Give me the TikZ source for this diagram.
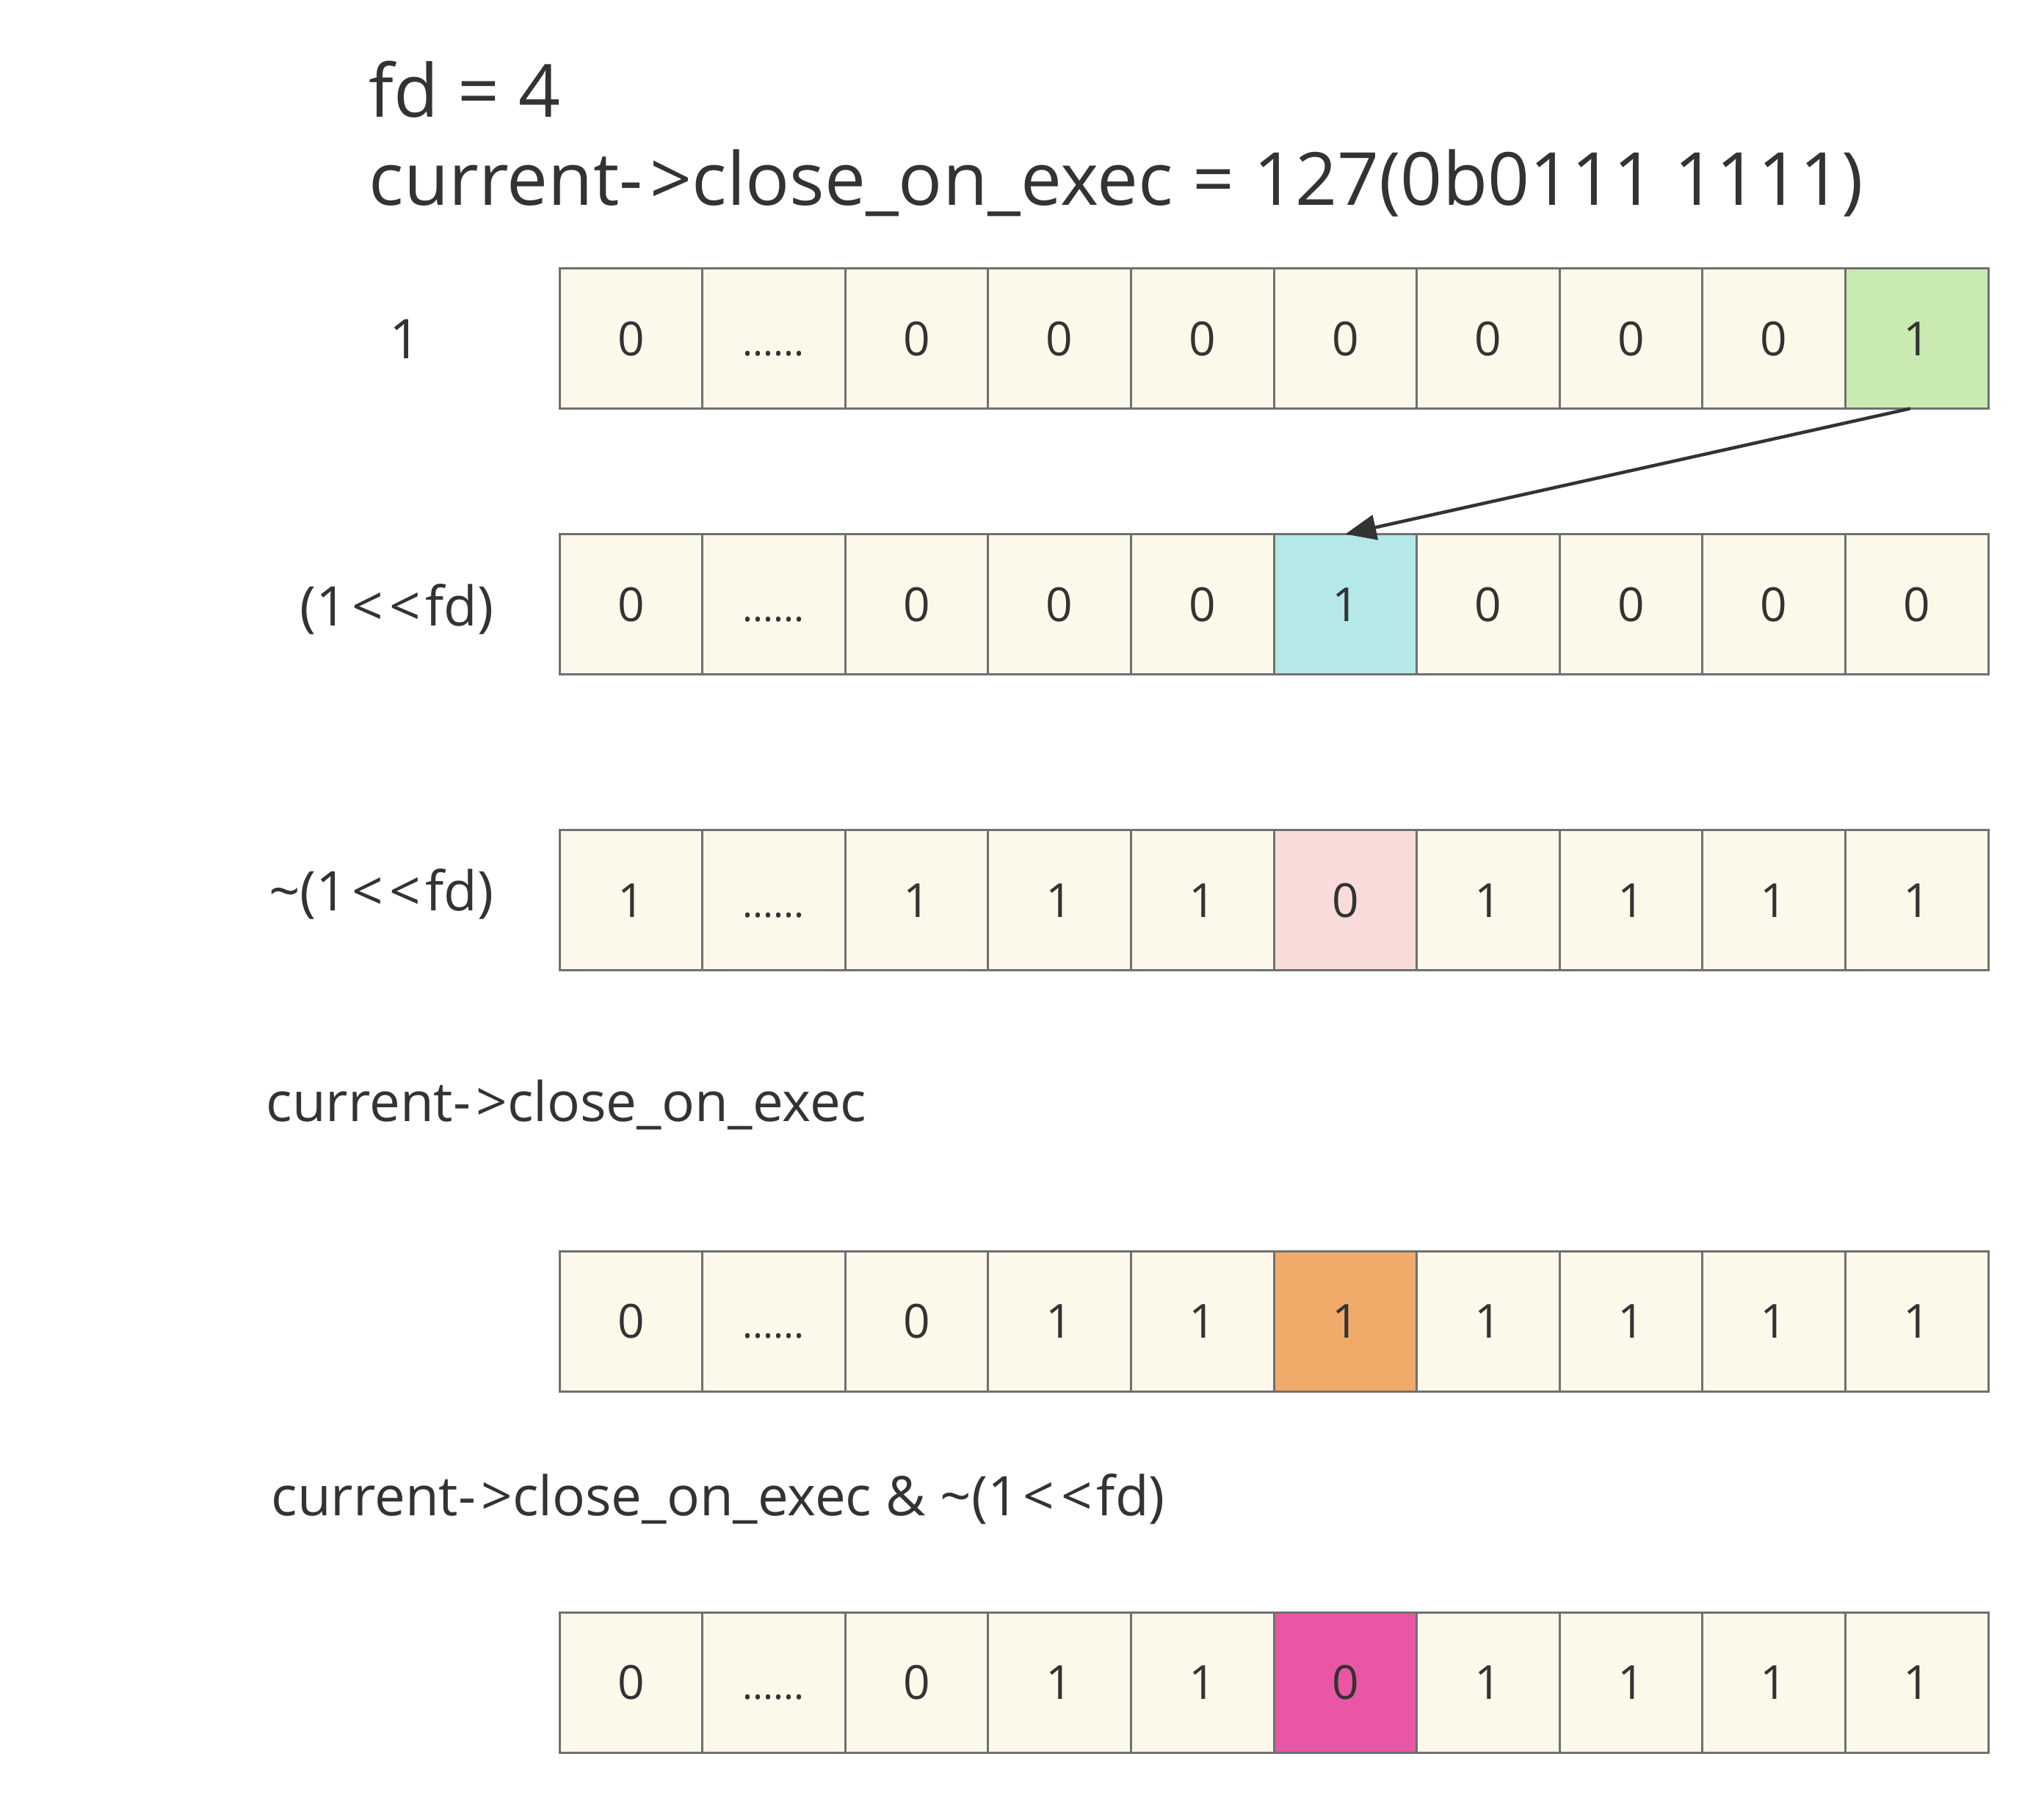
\documentclass[tikz,border=0pt]{standalone}
\usepackage{fontspec}
\setmainfont{Open Sans}
\usetikzlibrary{arrows.meta}

\definecolor{ink}{HTML}{333333}
\definecolor{edge}{HTML}{707070}
\definecolor{cream}{HTML}{FCF8EA}
\definecolor{lgreen}{HTML}{C9EBB2}
\definecolor{lcyan}{HTML}{B5E8E8}
\definecolor{lpink}{HTML}{F9DCDA}
\definecolor{lorange}{HTML}{F0AB6A}
\definecolor{lmagenta}{HTML}{E856A5}

\tikzset{
  bitcell/.style={draw=edge, line width=0.03cm, fill=cream, text=ink,
    minimum width=1.946cm, minimum height=1.91cm, inner sep=0pt, outer sep=0pt,
    font=\fontsize{18.2pt}{22pt}\selectfont, text height=0.46cm, text depth=0pt},
  title/.style={anchor=base west, inner sep=0pt, text=ink,
    font=\fontsize{28.4pt}{34pt}\selectfont},
  rowlabel/.style={inner sep=0pt, text=ink,
    font=\fontsize{21.2pt}{26pt}\selectfont},
  flow/.style={draw=ink, line width=0.045cm,
    -{Triangle[length=0.42cm, width=0.34cm]}}
}

% the elided middle bits
\newcommand{\elided}{{\fontsize{15pt}{18pt}\selectfont......}}
% operators, spaced as the font sets them
\newcommand{\arrowop}{-\kern0.1em>}
\newcommand{\shiftop}{\kern0.08em<\kern0.12em<\kern0.08em}
\newcommand{\tildeop}{\char`\~}

% one row of ten bits: #1 row name, #2 y of the row centre, #3 list of entries
\newcommand{\bitrow}[3]{%
  \foreach \v/\f [count=\i from 0] in {#3} {
    \node[bitcell, fill=\f] (#1c\i) at ({8.593+1.946*\i}, #2) {\v};
  }%
}

\begin{document}
\begin{tikzpicture}
\useasboundingbox (0,0) rectangle (27.84,-24.63);

% heading
\node[title] (hfd) at (5.02,-1.60) {fd = 4};
\node[title] (hcoe) at (5.02,-2.80) {current\arrowop close\_on\_exec = 127(0b0111 1111)};

% row labels
\node[rowlabel, anchor=base] (lone) at (5.52,-4.88) {1};
\node[rowlabel, anchor=base east] (lshift) at (6.73,-8.52) {(1\shiftop fd)};
\node[rowlabel, anchor=base east] (lnot) at (6.73,-12.40) {\tildeop(1\shiftop fd)};
\node[rowlabel, anchor=base west] (lcoe) at (3.62,-15.27) {current\arrowop close\_on\_exec};
\node[rowlabel, anchor=base west] (land) at (3.69,-20.64) {current\arrowop close\_on\_exec \& \tildeop(1\shiftop fd)};

% bit rows
\bitrow{a}{-4.61}{0/cream,\elided/cream,0/cream,0/cream,0/cream,0/cream,0/cream,0/cream,0/cream,1/lgreen}
\bitrow{b}{-8.23}{0/cream,\elided/cream,0/cream,0/cream,0/cream,1/lcyan,0/cream,0/cream,0/cream,0/cream}
\bitrow{c}{-12.26}{1/cream,\elided/cream,1/cream,1/cream,1/cream,0/lpink,1/cream,1/cream,1/cream,1/cream}
\bitrow{d}{-17.995}{0/cream,\elided/cream,0/cream,1/cream,1/cream,1/lorange,1/cream,1/cream,1/cream,1/cream}
\bitrow{e}{-22.915}{0/cream,\elided/cream,0/cream,1/cream,1/cream,0/lmagenta,1/cream,1/cream,1/cream,1/cream}

% the shift of bit 0 up to bit fd
\draw[flow] ([xshift=-0.09cm]ac9.south) -- (bc5.north);
\end{tikzpicture}
\end{document}
